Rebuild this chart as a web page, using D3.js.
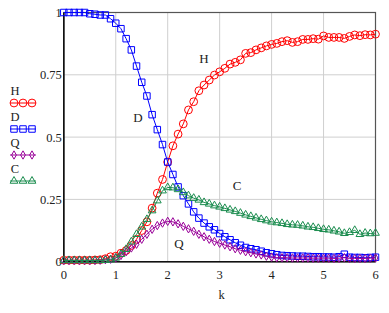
<!DOCTYPE html>
<html>
<head>
<meta charset="utf-8">
<script src="https://cdn.jsdelivr.net/npm/d3@7"></script>
<style>
  body { margin: 0; background: #fff; }
  text { font-family: "Liberation Serif", "DejaVu Serif", serif; fill: #222; }
</style>
</head>
<body>
<div class="graph"></div>
<script>
// k from 0 to 6 in steps of 0.1
let kValues = d3.range(61).map(i => +(i * 0.1).toFixed(1))

let H = [0.006, 0.006, 0.006, 0.006, 0.006, 0.006, 0.007, 0.008, 0.012, 0.02,
         0.022, 0.034, 0.045, 0.065, 0.09, 0.125, 0.16, 0.215, 0.275, 0.33,
         0.40, 0.465, 0.512, 0.553, 0.609, 0.642, 0.686, 0.709, 0.729, 0.749,
         0.762, 0.776, 0.793, 0.80, 0.81, 0.836, 0.839, 0.85, 0.858, 0.866,
         0.872, 0.876, 0.883, 0.887, 0.88, 0.883, 0.892, 0.892, 0.895, 0.893,
         0.906, 0.90, 0.90, 0.90, 0.896, 0.904, 0.91, 0.907, 0.911, 0.91, 0.913]

let D = [1.0, 1.0, 1.0, 1.0, 1.0, 0.995, 0.993, 0.99, 0.99, 0.975,
         0.957, 0.935, 0.895, 0.85, 0.785, 0.72, 0.665, 0.59, 0.53, 0.47,
         0.40, 0.35, 0.30, 0.265, 0.232, 0.20, 0.175, 0.155, 0.14, 0.128,
         0.113, 0.10, 0.088, 0.076, 0.066, 0.057, 0.052, 0.048, 0.042, 0.036,
         0.032, 0.028, 0.025, 0.024, 0.023, 0.022, 0.022, 0.021, 0.02, 0.02,
         0.019, 0.019, 0.018, 0.02, 0.03, 0.018, 0.017, 0.017, 0.016, 0.017, 0.018]

let Q = [0.005, 0.005, 0.005, 0.005, 0.005, 0.005, 0.005, 0.006, 0.008, 0.01,
         0.015, 0.025, 0.04, 0.055, 0.07, 0.09, 0.11, 0.13, 0.145, 0.155,
         0.162, 0.16, 0.152, 0.142, 0.132, 0.122, 0.11, 0.10, 0.09, 0.081,
         0.074, 0.067, 0.06, 0.052, 0.046, 0.04, 0.036, 0.031, 0.027, 0.022,
         0.018, 0.016, 0.016, 0.016, 0.015, 0.015, 0.015, 0.015, 0.014, 0.014,
         0.014, 0.014, 0.013, 0.014, 0.016, 0.013, 0.013, 0.013, 0.013, 0.014, 0.015]

let C = [0.005, 0.005, 0.005, 0.005, 0.005, 0.005, 0.005, 0.005, 0.006, 0.008,
         0.015, 0.03, 0.05, 0.08, 0.11, 0.14, 0.17, 0.205, 0.245, 0.285,
         0.298, 0.297, 0.29, 0.278, 0.265, 0.255, 0.248, 0.238, 0.232, 0.225,
         0.22, 0.214, 0.208, 0.202, 0.195, 0.188, 0.182, 0.176, 0.17, 0.165,
         0.16, 0.157, 0.154, 0.15, 0.148, 0.147, 0.144, 0.14, 0.138, 0.134,
         0.13, 0.128, 0.124, 0.12, 0.114, 0.118, 0.126, 0.11, 0.115, 0.113, 0.115]

let xTicks = [0, 1, 2, 3, 4, 5, 6]
let yTicks = [0, 0.25, 0.5, 0.75, 1]
let yTickLabels = ['0', '0.25', '0.5', '0.75', '1']

let series = [
    { name: 'H', values: H, color: '#ff0000', symbol: d3.symbolCircle, size: 48, label: [204, 63] },
    { name: 'D', values: D, color: '#0000ff', symbol: d3.symbolSquare, size: 42, label: [138, 122] },
    { name: 'Q', values: Q, color: '#990099', symbol: d3.symbolDiamond, size: 20, label: [179, 248] },
    { name: 'C', values: C, color: '#1a8c4e', symbol: d3.symbolTriangle, size: 26, label: [237, 190] }
]

let width = 389,
    height = 313

let x = d3.scaleLinear().domain([0, 6]).range([63.8, 375.5])
let y = d3.scaleLinear().domain([0, 1]).range([261.7, 12.5])

let svg = d3.select('.graph').append('svg')
    .attr('width', width)
    .attr('height', height)

// grid
svg.append('g')
    .selectAll('line.vx')
    .data(xTicks.slice(1, -1))
    .join('line')
    .attr('x1', d => x(d)).attr('x2', d => x(d))
    .attr('y1', y(0)).attr('y2', y(1))
    .attr('stroke', '#cfcfcf').attr('stroke-width', 1)

svg.append('g')
    .selectAll('line.hy')
    .data(yTicks.slice(1, -1))
    .join('line')
    .attr('x1', x(0)).attr('x2', x(6))
    .attr('y1', d => y(d)).attr('y2', d => y(d))
    .attr('stroke', '#cfcfcf').attr('stroke-width', 1)

// frame
svg.append('rect')
    .attr('x', x(0)).attr('y', y(1))
    .attr('width', x(6) - x(0)).attr('height', y(0) - y(1))
    .attr('fill', 'none').attr('stroke', '#555').attr('stroke-width', 1.2)

svg.append('path')
    .attr('d', 'M' + x(0) + ',' + y(1) + 'V' + y(0) + 'H' + x(6))
    .attr('fill', 'none').attr('stroke', '#111').attr('stroke-width', 1.6)

// tick labels
svg.append('g')
    .selectAll('text')
    .data(xTicks)
    .join('text')
    .attr('x', d => x(d)).attr('y', y(0) + 17)
    .attr('text-anchor', 'middle')
    .style('font-size', '12.5px')
    .text(d => d)

svg.append('g')
    .selectAll('text')
    .data(yTicks)
    .join('text')
    .attr('x', x(0) - 2).attr('y', d => y(d) + 4.5)
    .attr('text-anchor', 'end')
    .style('font-size', '12.5px')
    .text((d, i) => yTickLabels[i])

svg.append('text')
    .attr('x', x(3) + 2).attr('y', 299)
    .attr('text-anchor', 'middle')
    .style('font-size', '12.5px')
    .text('k')

// lines and markers
let line = d3.line()
    .x((d, i) => x(kValues[i]))
    .y(d => y(d))

let plot = svg.append('g')

series.forEach(s => {
    plot.append('path')
        .datum(s.values)
        .attr('d', line)
        .attr('fill', 'none')
        .attr('stroke', s.color)
        .attr('stroke-width', 1)

    plot.append('g')
        .selectAll('path')
        .data(s.values)
        .join('path')
        .attr('transform', (d, i) => 'translate(' + x(kValues[i]) + ',' + y(d) + ')')
        .attr('d', d3.symbol().type(s.symbol).size(s.size))
        .attr('fill', 'none')
        .attr('stroke', s.color)
        .attr('stroke-width', 1)
})

// in-plot labels
series.forEach(s => {
    svg.append('text')
        .attr('x', s.label[0]).attr('y', s.label[1])
        .attr('text-anchor', 'middle')
        .style('font-size', '13px')
        .text(s.name)
})

// legend
let legend = svg.append('g')
series.forEach((s, i) => {
    let ly = 103 + i * 26
    legend.append('text')
        .attr('x', 15).attr('y', ly - 8)
        .attr('text-anchor', 'middle')
        .style('font-size', '12.5px')
        .text(s.name)
    legend.append('line')
        .attr('x1', 10).attr('x2', 36)
        .attr('y1', ly).attr('y2', ly)
        .attr('stroke', s.color).attr('stroke-width', 1)
    ;[14, 23, 32].forEach(cx => {
        legend.append('path')
            .attr('transform', 'translate(' + cx + ',' + ly + ')')
            .attr('d', d3.symbol().type(s.symbol).size(s.size))
            .attr('fill', 'none')
            .attr('stroke', s.color)
            .attr('stroke-width', 1)
    })
})
</script>
</body>
</html>
